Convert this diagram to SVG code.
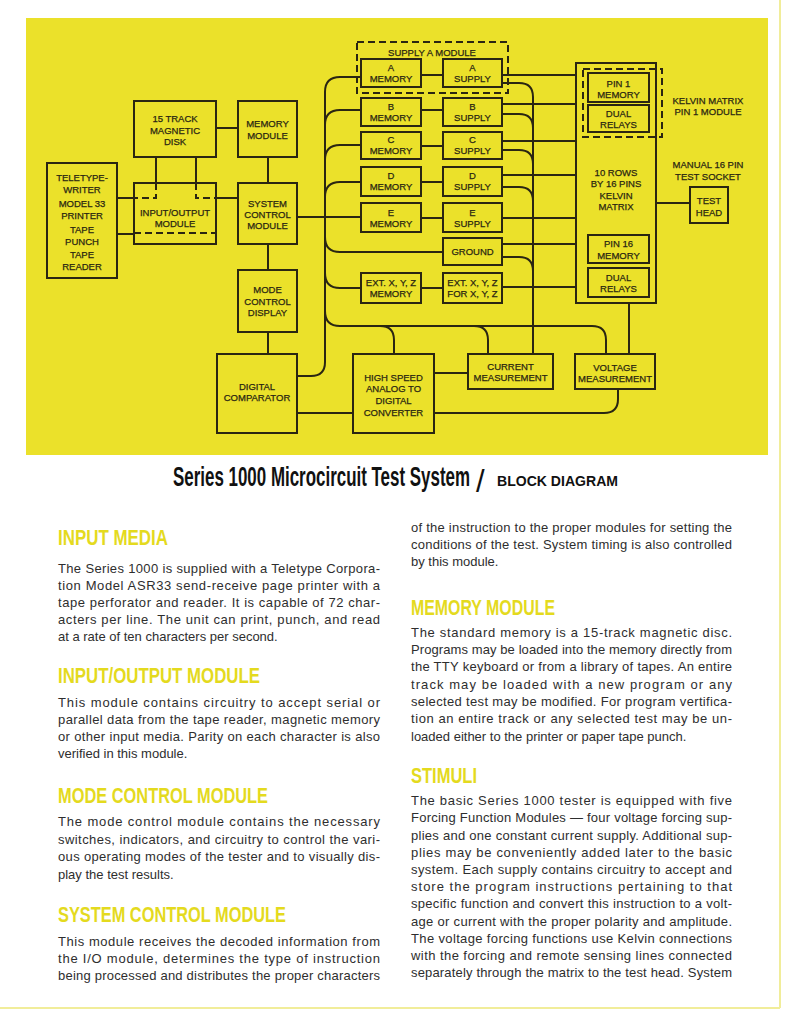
<svg xmlns="http://www.w3.org/2000/svg" width="800" height="1025" viewBox="0 0 800 1025">
<style>
.bx{fill:none;stroke:#2a2612;stroke-width:2}
.ln{fill:none;stroke:#2a2612;stroke-width:2}
.ds{fill:none;stroke:#2a2612;stroke-width:2;stroke-dasharray:7 4}
.t{font-family:"Liberation Sans",Arial,sans-serif;font-size:9.5px;fill:#2a2612;stroke:#2a2612;stroke-width:0.25;text-anchor:middle}
.b{font-family:"Liberation Sans",Arial,sans-serif;font-size:13px;fill:#2e2e2e}
.h{font-family:"Liberation Sans",Arial,sans-serif;font-size:22px;font-weight:bold;fill:#e4da1e}
</style>
<rect width="800" height="1025" fill="#ffffff"/>
<line x1="780" y1="0" x2="780" y2="1008" stroke="#f1ed9a" stroke-width="2"/>
<line x1="0" y1="1008" x2="780" y2="1008" stroke="#f1ed9a" stroke-width="2"/>
<rect x="26" y="18" width="742" height="437" fill="#ebe12a"/>

<g id="connectors">
<path class="ln" d="M216,128H238M156,157V183M196,157V183M117,198H134M117,234H134M216,198H238M268,157V183M297,217H361M268,244V270M268,332V354M297,413H353M434,373H468"/>
<path class="ds" d="M156,183V198H134M196,183V198H216M134,233H216"/>
<path class="ln" d="M434,413H604Q618,413 618,399V389"/>
<path class="ln" d="M297,376H311Q325,376 325,362V92Q325,77 340,77H361"/>
<path class="ln" d="M325,125Q325,110 340,110H361M325,160Q325,145 340,145H361M325,197Q325,182 340,182H361"/>
<path class="ln" d="M325,237Q325,252 340,252H443M325,273Q325,288 340,288H361M325,311Q325,326 340,326H592Q606,326 606,340V354"/>
<path class="ln" d="M380,326Q394,326 394,340V354M474,326Q488,326 488,340V354"/>
<path class="ln" d="M421,75H443M421,110H443M421,146H443M421,182H443M421,218H443M421,288H443"/>
<path class="ln" d="M502,75H576M502,104H576M502,141H576M502,175H576M502,218H576M502,244H576M502,287H576"/>
<path class="ln" d="M502,83H519Q533,83 533,97V354M502,114H519Q533,114 533,128M502,150H519Q533,150 533,164M502,187H519Q533,187 533,201M502,257H519Q533,257 533,271"/>
<path class="ln" d="M629,303V354M656,203H690"/>
</g>

<g id="teletype"><rect class="bx" x="47" y="163" width="70" height="115"/>
<text class="t" x="82" y="181">TELETYPE-</text><text class="t" x="82" y="193">WRITER</text><text class="t" x="82" y="207">MODEL 33</text><text class="t" x="82" y="219">PRINTER</text><text class="t" x="82" y="233">TAPE</text><text class="t" x="82" y="245">PUNCH</text><text class="t" x="82" y="258">TAPE</text><text class="t" x="82" y="270">READER</text></g>
<g id="disk"><rect class="bx" x="134" y="101" width="82" height="56"/>
<text class="t" x="175" y="122">15 TRACK</text><text class="t" x="175" y="134">MAGNETIC</text><text class="t" x="175" y="145">DISK</text></g>
<g id="memory-module"><rect class="bx" x="238" y="101" width="59" height="56"/>
<text class="t" x="267.5" y="127">MEMORY</text><text class="t" x="267.5" y="139">MODULE</text></g>
<g id="io-module"><rect class="bx" x="134" y="183" width="82" height="61"/>
<text class="t" x="175" y="216">INPUT/OUTPUT</text><text class="t" x="175" y="227">MODULE</text></g>
<g id="system-control"><rect class="bx" x="238" y="183" width="59" height="61"/>
<text class="t" x="267.5" y="207">SYSTEM</text><text class="t" x="267.5" y="218">CONTROL</text><text class="t" x="267.5" y="229">MODULE</text></g>
<g id="mode-control"><rect class="bx" x="238" y="270" width="59" height="62"/>
<text class="t" x="267.5" y="293">MODE</text><text class="t" x="267.5" y="305">CONTROL</text><text class="t" x="267.5" y="316">DISPLAY</text></g>
<g id="digital-comparator"><rect class="bx" x="217" y="354" width="80" height="79"/>
<text class="t" x="257" y="390">DIGITAL</text><text class="t" x="257" y="401">COMPARATOR</text></g>
<g id="adc"><rect class="bx" x="353" y="354" width="81" height="79"/>
<text class="t" x="393.5" y="381">HIGH SPEED</text><text class="t" x="393.5" y="392">ANALOG TO</text><text class="t" x="393.5" y="404">DIGITAL</text><text class="t" x="393.5" y="416">CONVERTER</text></g>
<g id="current"><rect class="bx" x="468" y="354" width="85" height="35"/>
<text class="t" x="510.5" y="370">CURRENT</text><text class="t" x="510.5" y="381">MEASUREMENT</text></g>
<g id="voltage"><rect class="bx" x="575" y="354" width="80" height="35"/>
<text class="t" x="615" y="371">VOLTAGE</text><text class="t" x="615" y="382">MEASUREMENT</text></g>

<g id="supply-a-module"><rect class="ds" x="357" y="42" width="151" height="51" stroke-dasharray="6 4"/>
<text class="t" x="432" y="56">SUPPLY A MODULE</text></g>
<g id="a-memory"><rect class="bx" x="361" y="59" width="60" height="28"/><text class="t" x="391" y="71">A</text><text class="t" x="391" y="82">MEMORY</text></g>
<g id="a-supply"><rect class="bx" x="443" y="59" width="59" height="28"/><text class="t" x="472.5" y="71">A</text><text class="t" x="472.5" y="82">SUPPLY</text></g>
<g id="b-memory"><rect class="bx" x="361" y="98" width="60" height="28"/><text class="t" x="391" y="110">B</text><text class="t" x="391" y="121">MEMORY</text></g>
<g id="b-supply"><rect class="bx" x="443" y="98" width="59" height="28"/><text class="t" x="472.5" y="110">B</text><text class="t" x="472.5" y="121">SUPPLY</text></g>
<g id="c-memory"><rect class="bx" x="361" y="132" width="60" height="27"/><text class="t" x="391" y="143">C</text><text class="t" x="391" y="154">MEMORY</text></g>
<g id="c-supply"><rect class="bx" x="443" y="132" width="59" height="27"/><text class="t" x="472.5" y="143">C</text><text class="t" x="472.5" y="154">SUPPLY</text></g>
<g id="d-memory"><rect class="bx" x="361" y="167" width="60" height="29"/><text class="t" x="391" y="179">D</text><text class="t" x="391" y="190">MEMORY</text></g>
<g id="d-supply"><rect class="bx" x="443" y="167" width="59" height="29"/><text class="t" x="472.5" y="179">D</text><text class="t" x="472.5" y="190">SUPPLY</text></g>
<g id="e-memory"><rect class="bx" x="361" y="203" width="60" height="29"/><text class="t" x="391" y="216">E</text><text class="t" x="391" y="227">MEMORY</text></g>
<g id="e-supply"><rect class="bx" x="443" y="203" width="59" height="29"/><text class="t" x="472.5" y="216">E</text><text class="t" x="472.5" y="227">SUPPLY</text></g>
<g id="ground"><rect class="bx" x="443" y="238" width="59" height="27"/><text class="t" x="472.5" y="255">GROUND</text></g>
<g id="ext-memory"><rect class="bx" x="361" y="273" width="60" height="30"/><text class="t" x="391" y="286">EXT. X, Y, Z</text><text class="t" x="391" y="297">MEMORY</text></g>
<g id="ext-supply"><rect class="bx" x="443" y="273" width="59" height="30"/><text class="t" x="472.5" y="286">EXT. X, Y, Z</text><text class="t" x="472.5" y="297">FOR X, Y, Z</text></g>

<g id="kelvin-matrix"><rect class="bx" x="576" y="63" width="80" height="240"/>
<text class="t" x="616" y="176">10 ROWS</text><text class="t" x="616" y="187">BY 16 PINS</text><text class="t" x="616" y="199">KELVIN</text><text class="t" x="616" y="210">MATRIX</text></g>
<g id="pin1-module"><rect class="ds" x="583" y="69" width="79" height="68"/>
<text class="t" x="708" y="104">KELVIN MATRIX</text><text class="t" x="708" y="115">PIN 1 MODULE</text></g>
<g id="pin1-memory"><rect class="bx" x="588" y="73" width="61" height="29"/><text class="t" x="618.5" y="87">PIN 1</text><text class="t" x="618.5" y="98">MEMORY</text></g>
<g id="pin1-relays"><rect class="bx" x="588" y="105" width="61" height="27"/><text class="t" x="618.5" y="117">DUAL</text><text class="t" x="618.5" y="128">RELAYS</text></g>
<g id="pin16-memory"><rect class="bx" x="588" y="235" width="61" height="28"/><text class="t" x="618.5" y="247">PIN 16</text><text class="t" x="618.5" y="259">MEMORY</text></g>
<g id="pin16-relays"><rect class="bx" x="588" y="268" width="61" height="29"/><text class="t" x="618.5" y="281">DUAL</text><text class="t" x="618.5" y="292">RELAYS</text></g>
<g id="test-head"><text class="t" x="708" y="168">MANUAL 16 PIN</text><text class="t" x="708" y="180">TEST SOCKET</text>
<rect class="bx" x="690" y="187" width="38" height="36"/><text class="t" x="709" y="204">TEST</text><text class="t" x="709" y="216">HEAD</text></g>

<g id="title">
<text transform="translate(173,486) scale(0.6,1)" x="0" y="0" font-family="Liberation Sans,Arial,sans-serif" font-size="27" font-weight="bold" fill="#111" textLength="495" lengthAdjust="spacingAndGlyphs">Series 1000 Microcircuit Test System</text>
<text x="476" y="492" font-family="Liberation Sans,Arial,sans-serif" font-size="31" fill="#111">/</text>
<text x="497" y="486" font-family="Liberation Sans,Arial,sans-serif" font-size="15" font-weight="bold" fill="#111" textLength="121" lengthAdjust="spacingAndGlyphs">BLOCK DIAGRAM</text>
</g>

<g id="text-left">
<text class="h" x="58" y="545" textLength="110" lengthAdjust="spacingAndGlyphs">INPUT MEDIA</text>
<text class="b" x="58" y="573" textLength="322" lengthAdjust="spacing">The Series 1000 is supplied with a Teletype Corpora-</text>
<text class="b" x="58" y="590" textLength="322" lengthAdjust="spacing">tion Model ASR33 send-receive page printer with a</text>
<text class="b" x="58" y="607" textLength="322" lengthAdjust="spacing">tape perforator and reader.  It is capable of 72 char-</text>
<text class="b" x="58" y="624" textLength="322" lengthAdjust="spacing">acters per line.  The unit can print, punch, and read</text>
<text class="b" x="58" y="641">at a rate of ten characters per second.</text>

<text class="h" x="58" y="683" textLength="202" lengthAdjust="spacingAndGlyphs">INPUT/OUTPUT MODULE</text>
<text class="b" x="58" y="707" textLength="322" lengthAdjust="spacing">This module contains circuitry to accept serial or</text>
<text class="b" x="58" y="724" textLength="322" lengthAdjust="spacing">parallel data from the tape reader, magnetic memory</text>
<text class="b" x="58" y="741" textLength="322" lengthAdjust="spacing">or other input media.  Parity on each character is also</text>
<text class="b" x="58" y="758">verified in this module.</text>

<text class="h" x="58" y="803" textLength="210" lengthAdjust="spacingAndGlyphs">MODE CONTROL MODULE</text>
<text class="b" x="58" y="826" textLength="322" lengthAdjust="spacing">The mode control module contains the necessary</text>
<text class="b" x="58" y="844" textLength="322" lengthAdjust="spacing">switches, indicators, and circuitry to control the vari-</text>
<text class="b" x="58" y="861" textLength="322" lengthAdjust="spacing">ous operating modes of the tester and to visually dis-</text>
<text class="b" x="58" y="879">play the test results.</text>

<text class="h" x="58" y="922" textLength="228" lengthAdjust="spacingAndGlyphs">SYSTEM CONTROL MODULE</text>
<text class="b" x="58" y="946" textLength="322" lengthAdjust="spacing">This module receives the decoded information from</text>
<text class="b" x="58" y="963" textLength="322" lengthAdjust="spacing">the I/O module, determines the type of instruction</text>
<text class="b" x="58" y="980" textLength="322" lengthAdjust="spacing">being processed and distributes the proper characters</text>
</g>

<g id="text-right">
<text class="b" x="411" y="532" textLength="321" lengthAdjust="spacing">of the instruction to the proper modules for setting the</text>
<text class="b" x="411" y="549" textLength="321" lengthAdjust="spacing">conditions of the test. System timing is also controlled</text>
<text class="b" x="411" y="566">by this module.</text>

<text class="h" x="411" y="615" textLength="144" lengthAdjust="spacingAndGlyphs">MEMORY MODULE</text>
<text class="b" x="411" y="637" textLength="321" lengthAdjust="spacing">The standard memory is a 15-track magnetic disc.</text>
<text class="b" x="411" y="654" textLength="321" lengthAdjust="spacing">Programs may be loaded into the memory directly from</text>
<text class="b" x="411" y="671" textLength="321" lengthAdjust="spacing">the TTY keyboard or from a library of tapes.  An entire</text>
<text class="b" x="411" y="689" textLength="321" lengthAdjust="spacing">track may be loaded with a new program or any</text>
<text class="b" x="411" y="706" textLength="321" lengthAdjust="spacing">selected test may be modified.  For program vertifica-</text>
<text class="b" x="411" y="723" textLength="321" lengthAdjust="spacing">tion an entire track or any selected test may be un-</text>
<text class="b" x="411" y="741">loaded either to the printer or paper tape punch.</text>

<text class="h" x="411" y="783" textLength="66" lengthAdjust="spacingAndGlyphs">STIMULI</text>
<text class="b" x="411" y="805" textLength="321" lengthAdjust="spacing">The basic Series 1000 tester is equipped with five</text>
<text class="b" x="411" y="822" textLength="321" lengthAdjust="spacing">Forcing Function Modules — four voltage forcing sup-</text>
<text class="b" x="411" y="840" textLength="321" lengthAdjust="spacing">plies and one constant current supply. Additional sup-</text>
<text class="b" x="411" y="857" textLength="321" lengthAdjust="spacing">plies may be conveniently added later to the basic</text>
<text class="b" x="411" y="874" textLength="321" lengthAdjust="spacing">system. Each supply contains circuitry to accept and</text>
<text class="b" x="411" y="891" textLength="321" lengthAdjust="spacing">store the program instructions pertaining to that</text>
<text class="b" x="411" y="908" textLength="321" lengthAdjust="spacing">specific function and convert this instruction to a volt-</text>
<text class="b" x="411" y="926" textLength="321" lengthAdjust="spacing">age or current with the proper polarity and amplitude.</text>
<text class="b" x="411" y="943" textLength="321" lengthAdjust="spacing">The voltage forcing functions use Kelvin connections</text>
<text class="b" x="411" y="960" textLength="321" lengthAdjust="spacing">with the forcing and remote sensing lines connected</text>
<text class="b" x="411" y="977" textLength="321" lengthAdjust="spacing">separately through the matrix to the test head. System</text>
</g>
</svg>
